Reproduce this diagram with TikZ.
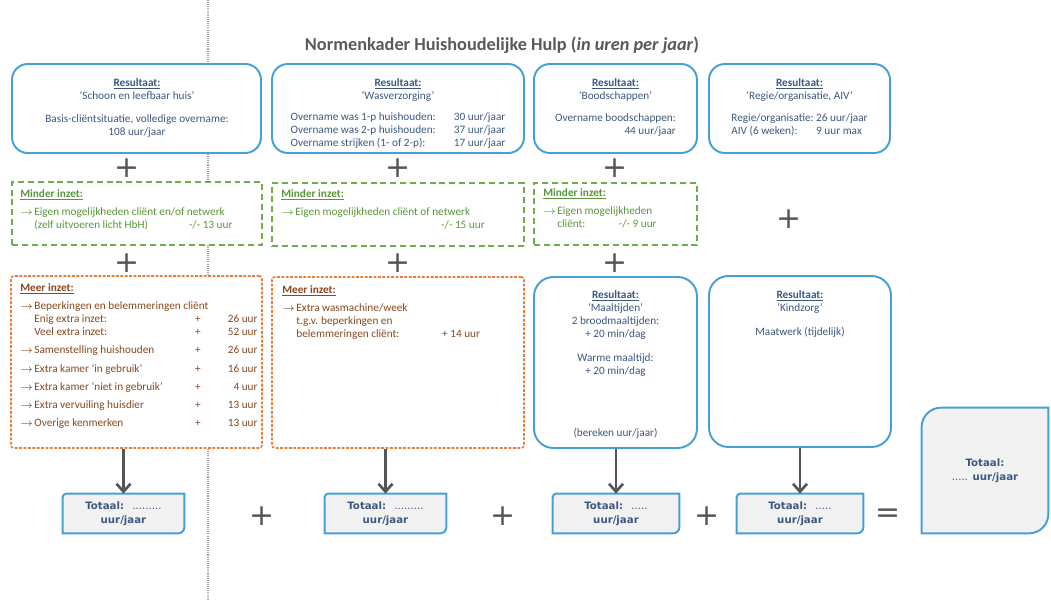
\documentclass[tikz,border=0pt]{standalone}
\usepackage{fontspec}
\setmainfont{Carlito}
\newfontfamily\dejavu{DejaVu Sans}
\usetikzlibrary{arrows.meta,backgrounds}
\definecolor{resblue}{RGB}{70,160,215}
\definecolor{restext}{RGB}{60,88,128}
\definecolor{mingreen}{RGB}{112,173,71}
\definecolor{mintext}{RGB}{88,150,58}
\definecolor{meerorange}{RGB}{232,125,55}
\definecolor{meertext}{RGB}{135,72,32}
\definecolor{totfill}{RGB}{242,242,242}
\definecolor{signgray}{RGB}{85,85,85}
\definecolor{titlegray}{RGB}{89,89,89}
\newcommand{\boxfont}{\fontsize{6.4}{7.4}\selectfont}
\newcommand{\kop}[1]{\underline{\textbf{#1}}}
\newcommand{\pijltje}{\makebox[8pt][l]{$\rightarrow$}}
\newcommand{\meer}[3]{\makebox[8pt][l]{#1}\makebox[91pt][l]{#2}\makebox[4pt]{+}\makebox[32pt][r]{#3}}
\newcommand{\vak}[6]{\node[#6, minimum width=(#4-#2)*0.02cm, minimum height=(#5-#3)*0.02cm] (#1) at ({(#2+#4)/2},{(#3+#5)/2}) {};}
\newcommand{\plus}[3]{\node[sign] (#1) at (#2,#3) {+};}
\newcommand{\pijl}[2]{\draw[pijl] (#1.south -| #2.north) -- (#2.north);}
\newcommand{\totaal}[8]{\node[tottxt, minimum width=(#4-#2)*0.02cm, minimum height=(#5-#3)*0.02cm] (#1) at ({(#2+#4)/2},{(#3+#5)/2}) {#8};
  \begin{pgfonlayer}{background}
  \filldraw[totline] ([yshift=-#6]#1.north west) arc[start angle=180,end angle=90,radius=#6] -- (#1.north east)
    -- ([yshift=#7]#1.south east) arc[start angle=0,end angle=-90,radius=#7] -- (#1.south west) -- cycle;
  \end{pgfonlayer}}
\tikzset{
  resbox/.style={draw=resblue, line width=1.1pt, rounded corners=9pt, fill=white},
  tallbox/.style={resbox, rounded corners=11pt},
  minbox/.style={draw=mingreen, line width=0.9pt, dash pattern=on 3.4pt off 2.2pt, fill=white},
  meerbox/.style={draw=meerorange, line width=0.9pt, dash pattern=on 1.6pt off 0.9pt, rounded corners=1.5pt, fill=white},
  restxt/.style={font=\boxfont, text=restext, align=center, inner sep=0pt},
  mintxt/.style={font=\boxfont, text=mintext, align=left, inner sep=0pt},
  meertxt/.style={font=\boxfont, text=meertext, align=left, inner sep=0pt},
  tottxt/.style={font=\dejavu\bfseries\fontsize{5.8}{8}\selectfont, text=restext, align=center, inner sep=0pt},
  totline/.style={draw=resblue, line width=1.1pt, fill=totfill},
  sign/.style={font=\dejavu\fontsize{17}{17}\selectfont, text=signgray, inner sep=0pt},
  pijl/.style={draw=signgray, line width=1.5pt, -{Straight Barb[length=4.5pt,width=8pt]}},
  titel/.style={font=\fontsize{10.4}{12}\selectfont\bfseries, text=titlegray, inner sep=0pt},
  scheiding/.style={draw=gray!70, line width=0.6pt, dash pattern=on 0.6pt off 0.6pt}
}
\begin{document}
\begin{tikzpicture}[x=0.02cm,y=-0.02cm]
\useasboundingbox (0,0) rectangle (1051,601);
\coordinate (lijnboven) at (208,0); \coordinate (lijnonder) at (208,601);
\draw[scheiding] (lijnboven) -- (lijnonder);
\node[titel] (titel) at (502,45) {Normenkader Huishoudelijke Hulp (\textit{in uren per jaar})};

\vak{r1}{12}{64}{261}{153}{resbox}  \vak{r2}{272}{64}{524}{153}{resbox}
\vak{r3}{534}{64}{697}{153}{resbox} \vak{r4}{709}{64}{890}{153}{resbox}
\node[restxt,anchor=north] (r1t) at (137,78) {\kop{Resultaat:}\\`Schoon en leefbaar huis'\\[6pt]Basis-cliëntsituatie, volledige overname:\\108 uur/jaar};
\node[restxt,anchor=north] (r2t) at (398,78) {\kop{Resultaat:}\\`Wasverzorging'\\[4.5pt]\begin{tabular}[t]{@{}p{93pt}@{}l@{}}Overname was 1-p huishouden: & 30 uur/jaar\\Overname was 2-p huishouden: & 37 uur/jaar\\Overname strijken (1- of 2-p): & 17 uur/jaar\end{tabular}};
\node[restxt,anchor=north] (r3t) at (615.5,78) {\kop{Resultaat:}\\`Boodschappen'\\[5pt]\begin{tabular}[t]{@{}r@{}}Overname boodschappen:\\[0.5pt]44 uur/jaar\end{tabular}};
\node[restxt,anchor=north] (r4t) at (799.5,78) {\kop{Resultaat:}\\`Regie/organisatie, AIV'\\[5pt]\begin{tabular}[t]{@{}l@{\ }l@{}}Regie/organisatie: & 26 uur/jaar\\AIV (6 weken): & 9 uur max\end{tabular}};

\vak{g1}{12}{182}{262}{245}{minbox} \vak{g2}{272}{183}{524}{246}{minbox}
\vak{g3}{534}{183}{697}{245}{minbox}
\node[mintxt,anchor=north west] (g1t) at (20,189) {\kop{Minder inzet:}\\[3pt]\pijltje Eigen mogelijkheden cliënt en/of netwerk\\\hspace*{8pt}\makebox[88pt][l]{(zelf uitvoeren licht HbH)}-/- 13 uur};
\node[mintxt,anchor=north west] (g2t) at (281,189) {\kop{Minder inzet:}\\[3pt]\pijltje Eigen mogelijkheden cliënt of netwerk\\\hspace*{91pt}-/- 15 uur};
\node[mintxt,anchor=north west] (g3t) at (543,188) {\kop{Minder inzet:}\\[3pt]\pijltje Eigen mogelijkheden\\\hspace*{8pt}\makebox[35pt][l]{cliënt:}-/- 9 uur};

\vak{m1}{11}{276}{262}{448}{meerbox} \vak{m2}{272}{277}{524}{448}{meerbox}
\node[meertxt,anchor=north west] (m1t) at (20,283) {\kop{Meer inzet:}\\[3pt]
  \pijltje Beperkingen en belemmeringen cliënt\\
  \meer{}{Enig extra inzet:}{26 uur}\\
  \meer{}{Veel extra inzet:}{52 uur}\\[3pt]
  \meer{$\rightarrow$}{Samenstelling huishouden}{26 uur}\\[3pt]
  \meer{$\rightarrow$}{Extra kamer `in gebruik'}{16 uur}\\[3pt]
  \meer{$\rightarrow$}{Extra kamer `niet in gebruik'}{4 uur}\\[3pt]
  \meer{$\rightarrow$}{Extra vervuiling huisdier}{13 uur}\\[3pt]
  \meer{$\rightarrow$}{Overige kenmerken}{13 uur}};
\node[meertxt,anchor=north west] (m2t) at (282,285) {\kop{Meer inzet:}\\[3pt]\pijltje Extra wasmachine/week\\\hspace*{8pt}t.g.v. beperkingen en\\\hspace*{8pt}\makebox[83pt][l]{belemmeringen cliënt:}+ 14 uur};

\vak{mt}{534}{277}{697}{448}{tallbox} \vak{kz}{709}{276}{891}{447}{tallbox}
\node[restxt,anchor=north] (mtt) at (615.5,290) {\kop{Resultaat:}\\`Maaltijden'\\2 broodmaaltijden:\\+ 20 min/dag\\[6.4pt]Warme maaltijd:\\+ 20 min/dag};
\node[restxt] (mtn) at (615.5,433) {(bereken uur/jaar)};
\node[restxt,anchor=north] (kzt) at (800,290) {\kop{Resultaat:}\\`Kindzorg'\\[6.4pt]Maatwerk (tijdelijk)};

\plus{p1}{127}{168} \plus{p2}{398}{168} \plus{p3}{615}{168}
\plus{p4}{127}{263} \plus{p5}{398}{263} \plus{p6}{615}{263}
\plus{p7}{789}{219}

\totaal{t1}{63}{494}{184}{533}{2pt}{3.5pt}{Totaal: \ {\mdseries .........}\\uur/jaar}
\totaal{t2}{325}{494}{446}{533}{2pt}{3.5pt}{Totaal: \ {\mdseries .........}\\uur/jaar}
\totaal{t3}{553}{494}{679}{533}{2pt}{3.5pt}{Totaal: \ {\mdseries .....}\\uur/jaar}
\totaal{t4}{737}{494}{863}{533}{2pt}{3.5pt}{Totaal: \ {\mdseries .....}\\uur/jaar}
\totaal{tt}{922}{408}{1048}{533}{11pt}{11pt}{Totaal:\\{\mdseries .....} uur/jaar}
\plus{p8}{262}{516} \plus{p9}{503}{516} \plus{p10}{707}{516}
\node[sign] (is) at (888,516) {=};

\pijl{m1}{t1} \pijl{m2}{t2} \pijl{mt}{t3} \pijl{kz}{t4}
\end{tikzpicture}
\end{document}
